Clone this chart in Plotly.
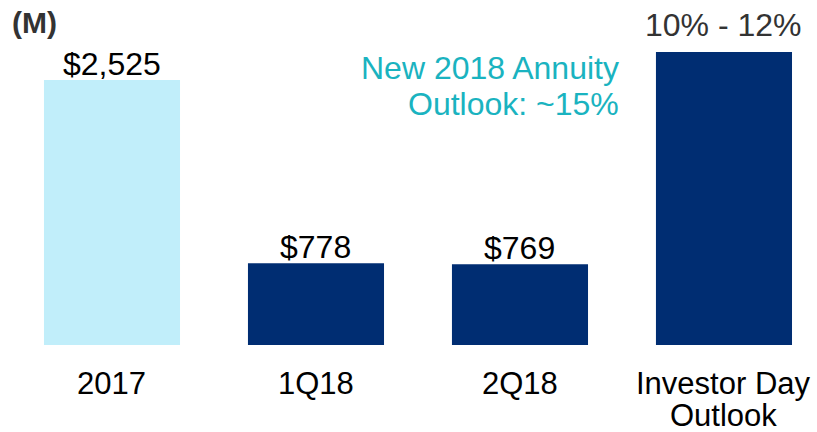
import plotly.graph_objects as go

categories = ["2017", "1Q18", "2Q18", "Investor Day<br>Outlook"]
values = [2525, 778, 769, 2792]
bar_labels = ["$2,525", "$778", "$769", "10% - 12%"]
bar_colors = ["#C1EEFA", "#002D72", "#002D72", "#002D72"]
label_colors = ["#000000", "#000000", "#000000", "#333333"]
note_lines = ["New 2018 Annuity", "Outlook: ~15%"]
unit_label = "(M)"

FONT = "Liberation Sans, Arial, sans-serif"
xs = list(range(len(categories)))

fig = go.Figure()
fig.add_trace(go.Bar(
    x=xs, y=values, width=0.667,
    marker=dict(color=bar_colors, line=dict(width=0)),
    hoverinfo="skip",
))

# value labels above bars
for i, (xi, v, lab, col) in enumerate(zip(xs, values, bar_labels, label_colors)):
    shift = 7 if i == len(values) - 1 else -4
    fig.add_annotation(text=lab, xref="x", yref="y", x=xi, y=v,
                       xanchor="center", yanchor="bottom", yshift=shift,
                       showarrow=False, font=dict(family=FONT, size=32, color=col))

# category labels (one annotation per line for tight line spacing)
for xi, cat in zip(xs, categories):
    for j, line in enumerate(cat.split("<br>")):
        fig.add_annotation(text=line, xref="x", yref="paper", x=xi,
                           y=-(38 + 32 * j) / 345, xanchor="center", yanchor="middle",
                           showarrow=False, borderpad=0,
                           font=dict(family=FONT, size=31, color="#000000"))

fig.add_annotation(text=unit_label, xref="paper", yref="paper", x=0.012, y=0.936,
                   xanchor="left", yanchor="middle", showarrow=False,
                   font=dict(family=FONT, size=30, color="#333333", weight="bold"))
for i, line in enumerate(note_lines):
    fig.add_annotation(text=line, xref="x", yref="y", x=2.495, y=2640 - i * 345,
                       xanchor="right", yanchor="middle", showarrow=False,
                       font=dict(family=FONT, size=32, color="#1AB3C0"))

fig.update_layout(
    width=817, height=432,
    margin=dict(l=0, r=0, t=0, b=87, autoexpand=False),
    plot_bgcolor="white", paper_bgcolor="white",
    showlegend=False,
    xaxis=dict(range=[-0.549, 3.456], showticklabels=False, automargin=False,
               showgrid=False, zeroline=False, showline=False, ticks=""),
    yaxis=dict(range=[0, 3287], visible=False, showgrid=False, zeroline=False,
               automargin=False),
)
fig.write_html("out.html", config={"displayModeBar": False},
               post_script="document.body.style.margin='0';document.body.style.overflow='hidden';")
